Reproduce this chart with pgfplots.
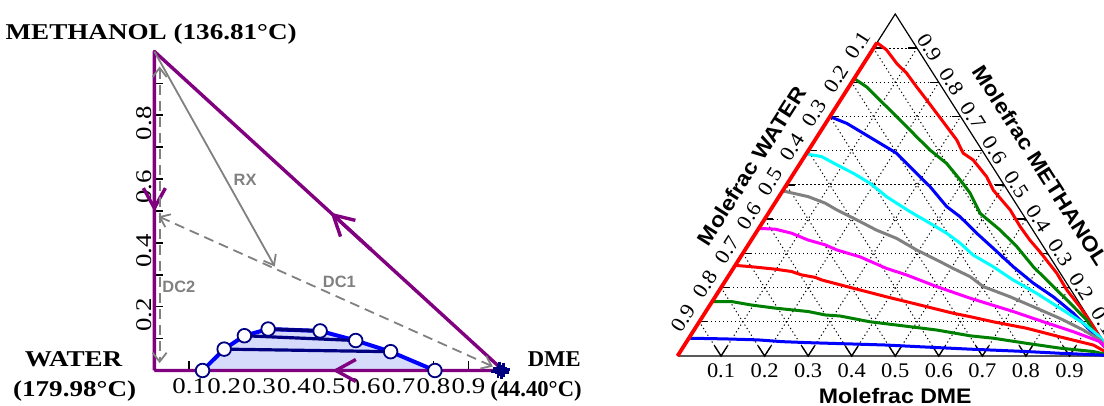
\documentclass[border=0pt]{standalone}
\usepackage{pgfplots}
\pgfplotsset{compat=1.18}
\usepackage{fontspec}
\usetikzlibrary{arrows.meta}
\setmainfont{Liberation Serif}
\newfontfamily\lserif[FakeStretch=1.2]{Liberation Serif}
\newfontfamily\plainserif{Liberation Serif}
\newfontfamily\lsans{Liberation Sans}
\newfontfamily\rserif[FakeStretch=1.08]{Liberation Serif}
\newfontfamily\rsans[FakeStretch=1.1]{Liberation Sans}
\definecolor{mpurple}{RGB}{128,0,128}
\definecolor{navy}{RGB}{0,0,128}
\definecolor{mgreen}{RGB}{0,128,0}
\definecolor{mgray}{RGB}{128,128,128}
\definecolor{mcyan}{RGB}{0,255,255}
\definecolor{mmagenta}{RGB}{255,0,255}
\definecolor{mred}{RGB}{255,0,0}
\definecolor{mblue}{RGB}{0,0,255}
\definecolor{envfill}{RGB}{214,219,252}
\begin{document}
\begin{tikzpicture}
\path[use as bounding box] (0,0) rectangle (552pt,203pt);

% ---------------- left panel ----------------
\begin{axis}[
  at={(77.2pt,17.75pt)}, anchor=south west, scale only axis,
  width=174.45pt, height=159.5pt,
  xmin=0, xmax=1, ymin=0, ymax=1, clip=false,
  axis x line=bottom, axis y line=left,
  axis line style={-,black,line width=0.6pt},
  xtick={0.1,0.2,0.3,0.4,0.5,0.6,0.7,0.8,0.9},
  xticklabels={0.1,0.2,0.3,0.4,0.5,0.6,0.7,0.8,0.9},
  ytick={0.1,0.2,0.3,0.4,0.5,0.6,0.7,0.8,0.9},
  yticklabels={,0.2,,0.4,,0.6,,0.8,},
  tick align=inside, major tick length=4.5pt,
  tick style={black,line width=0.8pt},
  ticklabel style={font=\lserif\fontsize{11.2}{13}\selectfont},
  yticklabel style={rotate=90, anchor=south, inner sep=1pt, xshift=-4pt},
  xticklabel style={inner sep=1pt, yshift=-3pt},
]
% two-liquid region
\addplot[draw=none, fill=envfill] coordinates {(0.138,0) (0.200,0.067) (0.258,0.109) (0.326,0.130) (0.475,0.124) (0.577,0.094) (0.677,0.059) (0.804,0)} \closedcycle;
% process triangle
\addplot[mpurple, line width=1.7pt, line join=round] coordinates {(0,0) (1,0) (0,1) (0,0)};
\addplot[mpurple, line width=1.7pt, -{Straight Barb[length=10pt,width=11pt]}] coordinates {(0.62,0) (0.51,0)};
\addplot[mpurple, line width=1.7pt, -{Straight Barb[length=10pt,width=11pt]}] coordinates {(0,0.64) (0,0.498)};
\addplot[mpurple, line width=1.7pt, -{Straight Barb[length=10pt,width=11pt]}] coordinates {(0.62,0.38) (0.505,0.495)};
% gray arrows
\addplot[mgray, line width=0.9pt, -{Straight Barb[length=4.5pt,width=7pt]}] coordinates {(0,1) (0.345,0.326)};
\addplot[mgray, line width=0.9pt, dash pattern=on 5pt off 3pt, {Straight Barb[length=4.5pt,width=7pt]}-{Straight Barb[length=4.5pt,width=7pt]}] coordinates {(0.97,0.0125) (0.012,0.483)};
\addplot[mgray, line width=0.9pt, dash pattern=on 5pt off 3pt, {Straight Barb[length=4.5pt,width=7pt]}-{Straight Barb[length=4.5pt,width=7pt]}] coordinates {(0.015,0.953) (0.015,0.023)};
% envelope and tie lines
\addplot[mblue, line width=2pt] coordinates {(0.138,0) (0.200,0.067) (0.258,0.109) (0.326,0.130) (0.475,0.124) (0.577,0.094) (0.677,0.059) (0.804,0)};
\addplot[navy, line width=1.6pt] coordinates {(0.200,0.067) (0.677,0.059)};
\addplot[navy, line width=1.6pt] coordinates {(0.258,0.109) (0.577,0.094)};
\addplot[navy, line width=1.8pt] coordinates {(0.326,0.130) (0.475,0.124)};
\addplot[only marks, mark=*, mark size=3.4pt, mark options={fill=white, draw=navy, line width=0.9pt}] coordinates {(0.138,0) (0.200,0.067) (0.258,0.109) (0.326,0.130) (0.475,0.124) (0.577,0.094) (0.677,0.059) (0.804,0)};
\addplot[only marks, mark=+, navy, mark size=3.5pt, line width=1.4pt] coordinates {(0.99,0.005) (0.995,-0.006) (1,0.003) (0.985,-0.002)};
\node[mgray, font=\lsans\bfseries\fontsize{8.2}{10}\selectfont] at (axis cs:0.26,0.598) {RX};
\node[mgray, font=\lsans\bfseries\fontsize{8.2}{10}\selectfont] at (axis cs:0.53,0.279) {DC1};
\node[mgray, font=\lsans\bfseries\fontsize{8.2}{10}\selectfont] at (axis cs:0.07,0.263) {DC2};
\end{axis}

\node[anchor=base west, font=\lserif\bfseries\fontsize{11.3}{13}\selectfont, inner sep=0pt] at (2.6pt,183pt) {METHANOL (136.81°C)};
\node[anchor=base, font=\lserif\bfseries\fontsize{11.3}{13}\selectfont, inner sep=0pt] at (36.8pt,19.65pt) {WATER};
\node[anchor=base, font=\lserif\bfseries\fontsize{11.3}{13}\selectfont, inner sep=0pt] at (37.3pt,4.65pt) {(179.98°C)};
\node[anchor=base east, font=\plainserif\bfseries\fontsize{11.3}{13}\selectfont, inner sep=0pt] at (290.5pt,19.65pt) {DME};
\node[anchor=base east, font=\plainserif\bfseries\fontsize{11.3}{13}\selectfont, inner sep=0pt] at (291pt,4.65pt) {(44.40°C)};

% ---------------- right panel (ternary) ----------------
\begin{axis}[
  at={(338.75pt,25pt)}, anchor=south west, scale only axis,
  width=217.75pt, height=171pt,
  xmin=0, xmax=1, ymin=0, ymax=1, hide axis, clip=false,
]
\pgfplotsinvokeforeach{0.1,0.2,0.3,0.4,0.5,0.6,0.7,0.8,0.9}{
  \draw[black, line width=0.5pt, dash pattern=on 0.6pt off 1.4pt] (axis cs:{#1/2},#1) -- (axis cs:{1-#1/2},#1);
  \draw[black, line width=0.5pt, dash pattern=on 0.6pt off 1.4pt] (axis cs:#1,0) -- (axis cs:{(1+#1)/2},{1-#1});
  \draw[black, line width=0.5pt, dash pattern=on 0.6pt off 1.4pt] (axis cs:#1,0) -- (axis cs:{#1/2},#1);
  \draw[black, line width=0.7pt] (axis cs:{#1-0.0146},0.029) -- (axis cs:#1,0) -- (axis cs:{#1+0.0146},0.029);
  \draw[black, line width=0.7pt] (axis cs:{#1/2},#1) -- (axis cs:{#1/2+0.02},#1);
  \draw[black, line width=0.7pt] (axis cs:{1-#1/2},#1) -- (axis cs:{1-#1/2-0.02},#1);
  \node[font=\rserif\fontsize{10.4}{12}\selectfont, anchor=base] at (axis cs:#1,-0.0626) {#1};
  \node[font=\rserif\fontsize{10.4}{12}\selectfont, rotate=57.5] at (axis cs:{(1-#1)/2-0.036},{1-#1+0.01}) {#1};
  \node[font=\rserif\fontsize{10.4}{12}\selectfont, rotate=-57.5] at (axis cs:{1-#1/2+0.029},{#1+0.002}) {#1};
}
\addplot[black, line width=0.6pt] coordinates {(0,0) (1,0) (0.5,1) (0,0)};
% residue curves
\addplot[mred, line width=1.5pt] table {
x y
0.458 0.916
0.480 0.895
0.503 0.856
0.526 0.827
0.549 0.787
0.572 0.749
0.595 0.710
0.618 0.671
0.641 0.632
0.656 0.593
0.679 0.573
0.710 0.524
0.725 0.485
0.764 0.427
0.787 0.378
0.809 0.339
0.832 0.305
0.871 0.242
0.894 0.193
0.924 0.144
0.955 0.086
0.978 0.037
1.000 0.000
};
\addplot[mgreen, line width=1.5pt] table {
x y
0.406 0.811
0.434 0.787
0.457 0.758
0.488 0.719
0.519 0.680
0.549 0.641
0.580 0.602
0.618 0.563
0.649 0.515
0.672 0.476
0.695 0.417
0.741 0.368
0.779 0.320
0.817 0.261
0.855 0.213
0.894 0.164
0.940 0.105
0.966 0.047
1.000 0.000
};
\addplot[mblue, line width=1.5pt] table {
x y
0.350 0.700
0.389 0.680
0.427 0.651
0.465 0.622
0.503 0.593
0.541 0.544
0.580 0.495
0.618 0.437
0.649 0.407
0.687 0.359
0.725 0.315
0.771 0.261
0.817 0.213
0.863 0.173
0.909 0.125
0.955 0.066
1.000 0.000
};
\addplot[mcyan, line width=1.5pt] table {
x y
0.295 0.591
0.331 0.583
0.366 0.559
0.404 0.534
0.442 0.505
0.480 0.466
0.503 0.447
0.534 0.422
0.580 0.388
0.618 0.359
0.649 0.330
0.679 0.295
0.725 0.261
0.771 0.222
0.825 0.183
0.878 0.140
0.932 0.096
0.970 0.056
1.000 0.000
};
\addplot[mgray, line width=1.5pt] table {
x y
0.241 0.483
0.300 0.466
0.339 0.447
0.366 0.427
0.404 0.403
0.457 0.368
0.503 0.344
0.549 0.310
0.595 0.281
0.633 0.256
0.672 0.232
0.702 0.203
0.764 0.173
0.817 0.144
0.878 0.110
0.932 0.076
0.970 0.047
1.000 0.000
};
\addplot[mmagenta, line width=1.5pt] table {
x y
0.187 0.373
0.224 0.371
0.262 0.359
0.300 0.339
0.339 0.325
0.366 0.310
0.419 0.290
0.480 0.256
0.526 0.237
0.595 0.203
0.672 0.169
0.710 0.154
0.771 0.130
0.840 0.100
0.909 0.071
0.970 0.042
1.000 0.000
};
\addplot[mred, line width=1.5pt] table {
x y
0.132 0.265
0.170 0.261
0.224 0.254
0.262 0.247
0.285 0.237
0.316 0.230
0.332 0.222
0.404 0.198
0.480 0.173
0.557 0.149
0.633 0.125
0.672 0.115
0.725 0.100
0.802 0.081
0.878 0.056
0.955 0.032
1.000 0.000
};
\addplot[mgreen, line width=1.5pt] table {
x y
0.080 0.159
0.125 0.159
0.170 0.149
0.224 0.140
0.262 0.135
0.300 0.130
0.339 0.120
0.373 0.117
0.442 0.100
0.519 0.088
0.595 0.076
0.672 0.059
0.725 0.052
0.802 0.037
0.878 0.023
0.955 0.013
1.000 0.000
};
\addplot[mblue, line width=1.5pt] table {
x y
0.026 0.052
0.109 0.050
0.186 0.047
0.239 0.042
0.300 0.039
0.404 0.035
0.480 0.032
0.557 0.027
0.672 0.020
0.802 0.013
0.878 0.008
0.970 0.003
1.000 0.000
};
\addplot[mred, line width=1.9pt] coordinates {(0,0) (0.458,0.916)};
\node[font=\rsans\bfseries\fontsize{10.5}{12}\selectfont, anchor=base] at (axis cs:0.5,-0.138) {Molefrac DME};
\node[font=\rsans\bfseries\fontsize{10.5}{12}\selectfont, rotate=57.5] at (axis cs:0.170,0.556) {Molefrac WATER};
\node[font=\rsans\bfseries\fontsize{10.5}{12}\selectfont, rotate=-57.5] at (axis cs:0.834,0.5565) {Molefrac METHANOL};
\end{axis}
\end{tikzpicture}
\end{document}
